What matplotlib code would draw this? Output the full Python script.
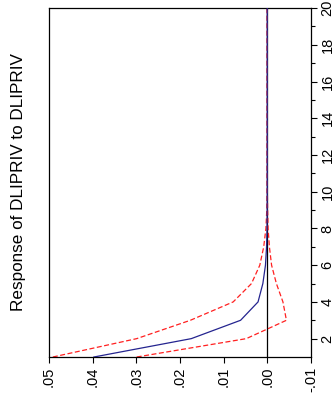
import matplotlib
matplotlib.use("Agg")
import matplotlib.pyplot as plt

plt.rcParams['font.family'] = ['Liberation Sans', 'DejaVu Sans']

periods = list(range(1, 21))
response = [0.0397, 0.0174, 0.0061, 0.0021, 0.0010, 0.0004, 0.00015, 0.00005, 0.00002, 0.0,
            0.0, 0.0, 0.0, 0.0, 0.0, 0.0, 0.0, 0.0, 0.0, 0.0]
upper = [0.0491, 0.0299, 0.0176, 0.0078, 0.0036, 0.0017, 0.0008, 0.0003, 0.0001, 0.00003,
         0.0, 0.0, 0.0, 0.0, 0.0, 0.0, 0.0, 0.0, 0.0, 0.0]
lower = [0.0299, 0.0048, -0.0044, -0.0036, -0.0021, -0.0010, -0.0005, -0.0002, -0.0001, -0.00003,
         0.0, 0.0, 0.0, 0.0, 0.0, 0.0, 0.0, 0.0, 0.0, 0.0]

value_ticks = [0.05, 0.04, 0.03, 0.02, 0.01, 0.00, -0.01]
value_labels = ['.05', '.04', '.03', '.02', '.01', '.00', '-.01']
period_ticks = [2, 4, 6, 8, 10, 12, 14, 16, 18, 20]
title = "Response of DLIPRIV to DLIPRIV"

fig = plt.figure(figsize=(3.35, 4.05), dpi=100)
ax = fig.add_axes([0.146, 0.1185, 0.782, 0.8615])

# chart is drawn rotated: values on the horizontal axis, periods vertical
ax.axvline(0, color='black', lw=0.9, zorder=1)
ax.plot(upper, periods, color='#ff2020', lw=0.9, ls=(0, (4, 2)), zorder=2)
ax.plot(lower, periods, color='#ff2020', lw=0.9, ls=(0, (4, 2)), zorder=2)
ax.plot(response, periods, color='#24248f', lw=0.9, zorder=3)

ax.set_xlim(0.05, -0.01)
ax.set_ylim(1, 20)

ax.set_xticks(value_ticks)
ax.set_xticklabels(value_labels, rotation=90, fontsize=10.5, va='top')
ax.yaxis.tick_right()
ax.set_yticks(period_ticks)
ax.set_yticks([p for p in periods if p % 2 == 1 and p > 1], minor=True)
ax.set_yticklabels([str(p) for p in period_ticks], rotation=90, fontsize=10.5, va='center')
ax.tick_params(axis='both', which='major', length=4.5, width=0.8, direction='out', pad=2.5)
ax.tick_params(axis='y', which='minor', length=3, width=0.8, direction='out')
for s in ax.spines.values():
    s.set_linewidth(0.9)

fig.text(0.055, 0.55, title, rotation=90, fontsize=12.3, ha='center', va='center')

fig.savefig("out.png", dpi=100)
